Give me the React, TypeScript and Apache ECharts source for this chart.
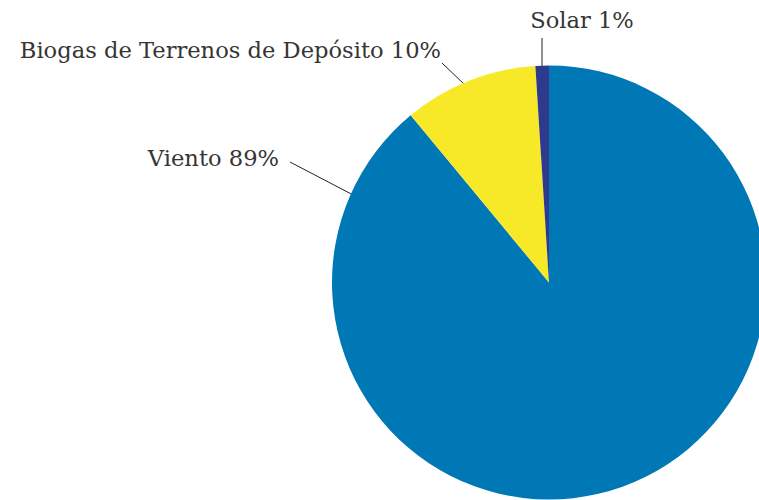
import React, { useEffect, useRef } from "react";
import * as echarts from "echarts";

const categories = ["Viento", "Biogas de Terrenos de Depósito", "Solar"];
const values = [89, 10, 1];
const colors = ["#0078b6", "#f7e928", "#2e3a8e"];

// label placement (text anchor and leader line) per slice
const labelPos = [
  { x: 279, y: 158, align: "right", line: [[290, 162], [357, 197]] },
  { x: 441, y: 50, align: "right", line: [[442, 63], [466, 86]] },
  { x: 582, y: 20, align: "center", line: [[542, 38], [542, 72]] },
];

export default function App() {
  const ref = useRef<HTMLDivElement>(null);
  useEffect(() => {
    if (!ref.current) return;
    const chart = echarts.init(ref.current, null, { renderer: "svg" });
    chart.setOption({
      animation: false,
      backgroundColor: "#ffffff",
      series: [
        {
          type: "pie",
          center: [549, 282.5],
          radius: 217,
          startAngle: 90,
          clockwise: true,
          avoidLabelOverlap: false,
          data: categories.map((name, i) => ({
            name,
            value: values[i],
            itemStyle: { color: colors[i] },
          })),
          label: {
            show: true,
            formatter: (p: any) => `${p.name} ${p.value}%`,
            fontFamily: "DejaVu Serif",
            fontSize: 22.6,
            color: "#353535",
          },
          labelLine: {
            show: true,
            lineStyle: { color: "#222222", width: 1 },
          },
          labelLayout: (params: any) => {
            const lp = labelPos[params.dataIndex];
            return {
              x: lp.x,
              y: lp.y,
              align: lp.align,
              verticalAlign: "middle",
              labelLinePoints: lp.line,
            };
          },
          emphasis: { disabled: true },
        },
      ],
    });
    return () => chart.dispose();
  }, []);
  return (
    <div
      ref={ref}
      style={{ position: "fixed", left: 0, top: 0, width: 759, height: 500 }}
    />
  );
}
